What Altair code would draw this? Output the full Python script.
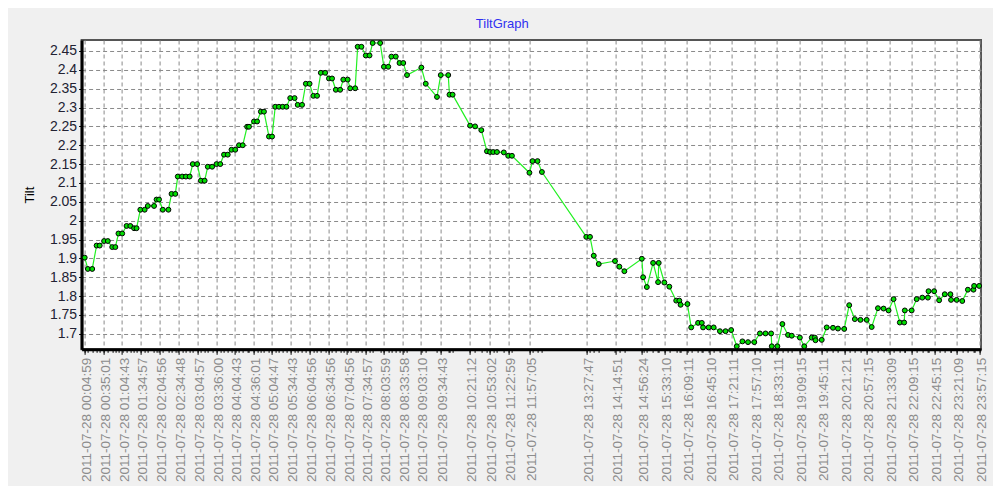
import altair as alt
import pandas as pd

DAY = "2011-07-28"

times = [
    "00:05", "00:10", "00:17", "00:24", "00:29", "00:36", "00:42", "00:49", "00:54", "00:59",
    "01:05", "01:12", "01:18", "01:24", "01:28", "01:34", "01:41", "01:46", "01:56", "02:00",
    "02:04", "02:10", "02:19", "02:24", "02:30", "02:34", "02:41", "02:47", "02:53", "02:58",
    "03:05", "03:11", "03:17", "03:22", "03:29", "03:36", "03:42", "03:48", "03:54", "04:00",
    "04:06", "04:12", "04:18", "04:25", "04:28", "04:36", "04:41", "04:47", "04:52", "05:00",
    "05:05", "05:10", "05:16", "05:22", "05:28", "05:34", "05:41", "05:46", "05:53", "05:59",
    "06:05", "06:11", "06:17", "06:23", "06:30", "06:36", "06:41", "06:47", "06:54", "06:59",
    "07:06", "07:10", "07:18", "07:22", "07:28", "07:35", "07:41", "07:46", "07:58", "08:04",
    "08:11", "08:16", "08:23", "08:29", "08:35", "08:41", "09:04", "09:11", "09:29", "09:35",
    "09:47", "09:49", "09:54", "10:22", "10:30", "10:40", "10:49", "10:54", "10:59", "11:05",
    "11:16", "11:23", "11:29", "11:57", "12:02", "12:10", "12:17", "13:28", "13:34", "13:40",
    "13:48", "14:14", "14:21", "14:29", "14:57", "14:59", "15:05", "15:15", "15:23", "15:24",
    "15:33", "15:41", "15:52", "15:57", "15:59", "16:10", "16:16", "16:27", "16:33", "16:35",
    "16:44", "16:52", "17:02", "17:11", "17:20", "17:29", "17:38", "17:47", "17:57", "18:06",
    "18:15", "18:24", "18:25", "18:34", "18:42", "18:51", "18:57", "19:10", "19:17", "19:29",
    "19:34", "19:35", "19:45", "19:53", "20:03", "20:11", "20:21", "20:29", "20:38", "20:47",
    "20:57", "21:05", "21:15", "21:24", "21:32", "21:40", "21:50", "21:57", "21:58", "22:09",
    "22:17", "22:26", "22:35", "22:36", "22:45", "22:53", "23:02", "23:11", "23:12", "23:21",
    "23:30", "23:39", "23:48", "23:49", "23:57",
]

tilt = [
    1.902, 1.872, 1.872, 1.934, 1.934, 1.946, 1.946, 1.930, 1.930, 1.966,
    1.966, 1.986, 1.986, 1.980, 1.980, 2.029, 2.029, 2.039, 2.039, 2.056,
    2.056, 2.029, 2.029, 2.071, 2.071, 2.117, 2.117, 2.117, 2.117, 2.150,
    2.150, 2.106, 2.106, 2.143, 2.143, 2.150, 2.150, 2.175, 2.175, 2.188,
    2.188, 2.200, 2.200, 2.249, 2.249, 2.263, 2.263, 2.289, 2.289, 2.223,
    2.223, 2.302, 2.302, 2.302, 2.302, 2.325, 2.325, 2.307, 2.307, 2.363,
    2.363, 2.331, 2.331, 2.392, 2.392, 2.377, 2.377, 2.347, 2.347, 2.374,
    2.374, 2.351, 2.351, 2.461, 2.461, 2.438, 2.438, 2.471, 2.471, 2.408,
    2.408, 2.435, 2.435, 2.418, 2.418, 2.386, 2.406, 2.363, 2.328, 2.386,
    2.386, 2.334, 2.334, 2.252, 2.250, 2.240, 2.184, 2.182, 2.182, 2.182,
    2.181, 2.172, 2.172, 2.127, 2.158, 2.158, 2.129, 1.957, 1.957, 1.907,
    1.885, 1.893, 1.878, 1.866, 1.899, 1.850, 1.824, 1.888, 1.837, 1.888,
    1.836, 1.825, 1.788, 1.788, 1.777, 1.779, 1.717, 1.729, 1.729, 1.717,
    1.717, 1.717, 1.707, 1.707, 1.710, 1.667, 1.680, 1.678, 1.678, 1.701,
    1.701, 1.701, 1.667, 1.667, 1.726, 1.697, 1.695, 1.690, 1.667, 1.690,
    1.690, 1.683, 1.684, 1.717, 1.716, 1.714, 1.713, 1.776, 1.739, 1.737,
    1.737, 1.718, 1.768, 1.767, 1.762, 1.792, 1.730, 1.730, 1.762, 1.762,
    1.792, 1.796, 1.796, 1.813, 1.813, 1.789, 1.805, 1.805, 1.790, 1.790,
    1.787, 1.817, 1.817, 1.827, 1.827,
]

label_times = [
    "00:04:59", "00:35:01", "01:04:43", "01:34:57", "02:04:56", "02:34:48",
    "03:04:57", "03:36:00", "04:04:43", "04:36:01", "05:04:47", "05:34:43",
    "06:04:56", "06:34:56", "07:04:56", "07:34:57", "08:03:59", "08:33:58",
    "09:03:10", "09:34:43", "10:21:12", "10:53:02", "11:22:59", "11:57:05",
    "13:27:47", "14:14:51", "14:56:24", "15:33:10", "16:09:11", "16:45:10",
    "17:21:11", "17:57:10", "18:33:11", "19:09:15", "19:45:11", "20:21:21",
    "20:57:15", "21:33:09", "22:09:15", "22:45:15", "23:21:09", "23:57:15",
]

y_ticks = [1.7, 1.75, 1.8, 1.85, 1.9, 1.95, 2.0, 2.05, 2.1, 2.15,
           2.2, 2.25, 2.3, 2.35, 2.4, 2.45]
y_domain = [1.659, 2.479]

df = pd.DataFrame({"time": [f"{DAY}T{t}:00" for t in times], "tilt": tilt})


def dt(s, day=28):
    h, m, sec = (int(p) for p in s.split(":"))
    return alt.DateTime(year=2011, month=7, date=day, hours=h, minutes=m, seconds=sec)


major_vals = [dt(s) for s in label_times]
minor_vals = [dt(t + ":00") for t in times]
x_domain = [dt("00:00:00"), dt("00:00:00", day=29)]

FONT = "Liberation Sans"

y_scale = alt.Scale(domain=y_domain, nice=False, zero=False)
y_axis = alt.Axis(
    values=y_ticks,
    labelExpr="format(datum.value, '.3~g')",
    labelFont=FONT, labelFontSize=14, labelColor="#222233",
    labelPadding=2, tickSize=3, tickColor="#000000",
    domainColor="#000000", domainWidth=3,
    grid=True, gridDash=[4, 3], gridColor="#8a8a8a", gridWidth=1,
    title="Tilt", titleFont=FONT, titleFontSize=13, titleFontWeight="normal",
    titleColor="#000000", titleAngle=270, titleAlign="center",
    titleBaseline="middle", titleX=-52, titleY=154.6,
)
y_enc = alt.Y("tilt:Q", scale=y_scale, axis=y_axis)

major_axis = alt.Axis(
    orient="bottom",
    values=major_vals,
    labelExpr="timeFormat(datum.value, '%Y-%m-%d %H:%M:%S')",
    labelAngle=270, labelAlign="right", labelBaseline="middle",
    labelFont=FONT, labelFontSize=13.5, labelColor="#8c8c8c",
    labelPadding=3, labelOffset=2, labelOverlap=False, labelFlush=False,
    labelBound=False,
    tickSize=5, tickColor="#000000", tickWidth=1,
    domainColor="#000000", domainWidth=3,
    grid=True, gridDash=[4, 3], gridColor="#8a8a8a", gridWidth=1,
    title=None,
)

minor_axis = alt.Axis(
    orient="bottom",
    values=minor_vals,
    labels=False, grid=False, domain=False,
    tickSize=3, tickColor="#000000", tickWidth=1,
    title=None,
)

x_scale = alt.Scale(domain=x_domain, nice=False)

line = alt.Chart(df).mark_line(color="#22f022", strokeWidth=1.2).encode(
    x=alt.X("time:T", scale=x_scale, axis=minor_axis),
    y=y_enc,
)

points = alt.Chart(df).mark_circle(
    size=24, color="#00dd00", stroke="#000000", strokeWidth=1, opacity=1
).encode(
    x=alt.X("time:T", scale=x_scale, axis=major_axis),
    y=y_enc,
)

chart = (
    alt.layer(line, points)
    .resolve_axis(x="independent")
    .properties(
        width=899.4,
        height=309.3,
        autosize=alt.AutoSizeParams(type="none"),
        padding={"left": 73.6, "top": 32, "right": 12, "bottom": 137},
        background="#f0f0f0",
        title=alt.TitleParams(
            "TiltGraph", font=FONT, fontSize=13, fontWeight="normal",
            color="#3030f0", anchor="middle", dx=-29, dy=12, offset=10,
            baseline="alphabetic",
        ),
    )
    .configure_view(fill="#ffffff", stroke="#555555", strokeWidth=2)
)

chart.save("out.html", embed_options={"renderer": "svg", "actions": False})
